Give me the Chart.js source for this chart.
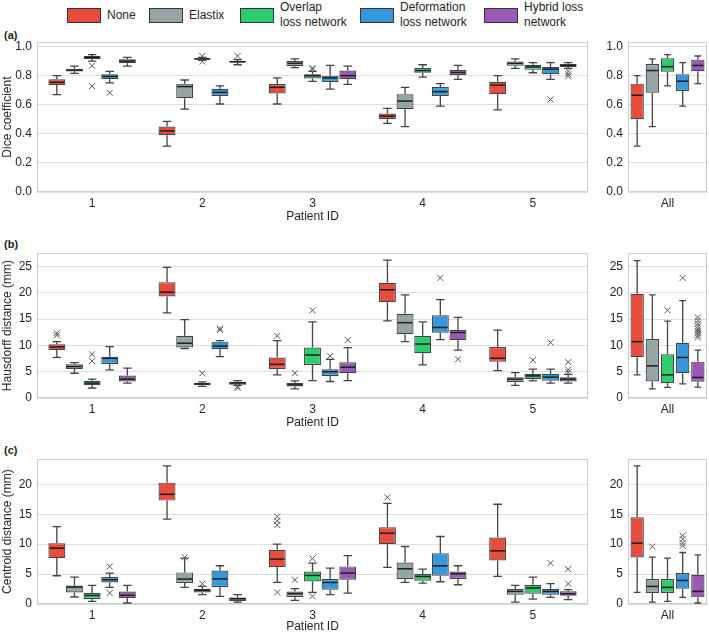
<!DOCTYPE html>
<html>
<head>
<meta charset="utf-8">
<script src="https://cdn.jsdelivr.net/npm/chart.js@4.4.1/dist/chart.umd.min.js"></script>
<style>
  body { margin: 0; background: #fff; font-family: "Liberation Sans", Arial, sans-serif; }
  #fig { position: relative; width: 709px; height: 634px; overflow: hidden; background: #fff; }
  #fig canvas { position: absolute; }
  .panel { position: absolute; left: 4px; font-size: 11px; font-weight: bold; color: #222; }
  .key { position: absolute; width: 34px; height: 15px; border: 1px solid #333; box-sizing: border-box; }
  .key-label { position: absolute; font-size: 12px; line-height: 15px; color: #262626; white-space: nowrap; }
</style>
</head>
<body>
<div id="fig">
  <div id="legend"></div>
  <div class="panel" style="top:29px">(a)</div>
  <div class="panel" style="top:238px">(b)</div>
  <div class="panel" style="top:444px">(c)</div>
  <canvas id="dice-main" width="595" height="194" style="left:0;top:30px"></canvas>
  <canvas id="dice-all" width="114" height="194" style="left:595px;top:30px"></canvas>
  <canvas id="haus-main" width="595" height="189" style="left:0;top:241px"></canvas>
  <canvas id="haus-all" width="114" height="189" style="left:595px;top:241px"></canvas>
  <canvas id="cent-main" width="595" height="187" style="left:0;top:447px"></canvas>
  <canvas id="cent-all" width="114" height="187" style="left:595px;top:447px"></canvas>
</div>
<script>
// each box: [min, q1, median, q3, max]
const methods = ['None', 'Elastix', 'Overlap loss network', 'Deformation loss network', 'Hybrid loss network'];
const legendText = [['None'], ['Elastix'], ['Overlap', 'loss network'], ['Deformation', 'loss network'], ['Hybrid loss', 'network']];
const patients = ['1', '2', '3', '4', '5'];
const allLabel = ['All'];

const diceTicks = [0, 0.2, 0.4, 0.6, 0.8, 1.0];
const hausTicks = [0, 5, 10, 15, 20, 25];
const centTicks = [0, 5, 10, 15, 20];

const diceBoxes = [
    [[0.67, 0.735, 0.755, 0.775, 0.80], [0.315, 0.39, 0.42, 0.45, 0.485], [0.605, 0.678, 0.72, 0.742, 0.785], [0.472, 0.50, 0.522, 0.54, 0.575], [0.565, 0.673, 0.735, 0.758, 0.80]],
    [[0.815, 0.828, 0.838, 0.848, 0.865], [0.57, 0.645, 0.725, 0.745, 0.77], [0.855, 0.865, 0.885, 0.90, 0.915], [0.45, 0.57, 0.625, 0.672, 0.72], [0.85, 0.868, 0.885, 0.898, 0.915]],
    [[0.90, 0.915, 0.925, 0.935, 0.945], [0.905, 0.91, 0.915, 0.92, 0.925], [0.76, 0.78, 0.80, 0.81, 0.83], [0.79, 0.82, 0.835, 0.852, 0.875], [0.82, 0.84, 0.86, 0.875, 0.89]],
    [[0.75, 0.775, 0.795, 0.81, 0.83], [0.605, 0.66, 0.685, 0.71, 0.73], [0.707, 0.757, 0.785, 0.80, 0.87], [0.59, 0.66, 0.69, 0.722, 0.745], [0.775, 0.81, 0.845, 0.86, 0.89]],
    [[0.865, 0.885, 0.90, 0.912, 0.925], [0.875, 0.89, 0.895, 0.90, 0.91], [0.74, 0.775, 0.80, 0.835, 0.865], [0.775, 0.805, 0.822, 0.838, 0.87], [0.85, 0.86, 0.87, 0.88, 0.89]]
];
const diceOut = [
    [[], [], [], [], []],
    [[], [], [], [], []],
    [[0.868, 0.728], [0.935, 0.897], [0.852, 0.845], [], []],
    [[0.682], [], [], [], [0.636]],
    [[], [0.935], [], [], [0.83, 0.81, 0.795]]
];
const diceAll = [[0.315, 0.50, 0.665, 0.745, 0.80], [0.45, 0.682, 0.835, 0.88, 0.915], [0.73, 0.826, 0.862, 0.92, 0.945], [0.59, 0.695, 0.762, 0.81, 0.89], [0.745, 0.83, 0.87, 0.91, 0.935]];
const diceAllOut = [[], [], [], [], []];

const hausBoxes = [
    [[7.7, 9.1, 9.7, 10.2, 10.7], [16.15, 19.3, 20.1, 22.0, 24.8], [4.4, 5.5, 6.4, 7.7, 10.9], [14.65, 18.2, 20.55, 21.9, 26.2], [5.2, 6.9, 7.55, 9.7, 12.9]],
    [[4.7, 5.5, 5.97, 6.4, 6.7], [9.4, 9.6, 10.4, 11.8, 14.9], [1.75, 2.2, 2.5, 2.83, 3.25], [10.7, 12.1, 14.3, 16.0, 19.6], [2.38, 3.0, 3.58, 3.96, 4.83]],
    [[1.9, 2.45, 2.83, 3.26, 3.6], [2.2, 2.4, 2.65, 2.9, 3.05], [3.3, 6.28, 8.17, 9.6, 14.45], [6.3, 8.5, 10.25, 11.8, 14.45], [3.26, 3.58, 4.2, 4.58, 5.47]],
    [[5.34, 6.47, 7.55, 7.85, 9.74], [7.85, 9.25, 9.87, 10.7, 10.9], [3.13, 4.2, 5.0, 5.47, 7.35], [11.1, 12.4, 13.4, 15.7, 18.7], [2.83, 3.26, 3.96, 4.58, 5.5]],
    [[2.83, 3.14, 3.58, 4.27, 5.66], [2.4, 2.5, 2.85, 3.08, 3.3], [3.3, 4.7, 5.85, 6.8, 9.55], [9.1, 11.0, 12.45, 12.9, 15.3], [2.83, 3.13, 3.58, 3.96, 4.5]]
];
const hausOut = [
    [[12.3, 11.9], [], [11.8], [], []],
    [[], [], [4.7], [], []],
    [[8.3, 7.0], [4.7], [16.65], [], [7.2]],
    [[], [13.2, 12.9], [8.0], [22.8], [10.55]],
    [[], [2.2, 1.9], [11.0], [7.35], [6.8, 5.4, 4.9]]
];
const hausAll = [[4.4, 7.74, 10.7, 19.8, 26.1], [1.75, 3.13, 6.1, 11.2, 19.6], [2.0, 2.83, 4.4, 8.3, 14.6], [2.7, 4.7, 7.7, 10.5, 18.5], [2.06, 3.1, 3.9, 6.9, 9.1]];
const hausAllOut = [[], [], [16.65], [22.8], [15.3, 14.7, 14.1, 13.6, 13.1, 12.7, 12.3, 11.9, 11.5]];

const centBoxes = [
    [[4.72, 7.67, 9.33, 10.17, 12.94], [14.2, 17.28, 18.33, 20.28, 23.1], [3.6, 6.17, 7.5, 9.06, 10.0], [6.11, 10.0, 11.83, 12.83, 16.83], [4.61, 7.28, 8.89, 11.11, 16.67]],
    [[1.17, 1.94, 2.83, 3.1, 4.5], [2.78, 3.5, 4.17, 5.28, 7.67], [0.61, 1.17, 1.72, 2.1, 2.56], [3.61, 4.17, 5.89, 6.94, 9.61], [0.33, 1.56, 2.11, 2.5, 3.11]],
    [[0.44, 0.83, 1.44, 1.83, 3.1], [1.56, 1.94, 2.28, 2.56, 2.94], [1.94, 3.78, 4.78, 5.44, 6.83], [3.5, 3.89, 4.61, 5.0, 5.83], [0.83, 1.72, 2.67, 3.22, 4.5]],
    [[2.78, 3.6, 4.06, 4.5, 5.17], [1.28, 2.83, 4.2, 5.6, 6.39], [1.56, 2.39, 3.6, 4.17, 6.0], [3.72, 4.72, 6.39, 8.5, 11.28], [1.11, 1.56, 2.11, 2.5, 3.39]],
    [[0.17, 1.0, 1.44, 2.1, 3.1], [0.33, 0.5, 0.89, 1.1, 1.56], [1.83, 4.06, 5.17, 6.28, 8.1], [3.22, 4.17, 5.06, 5.44, 6.39], [0.72, 1.39, 1.72, 2.11, 2.39]]
];
const centOut = [
    [[], [], [14.6, 13.9, 13.2, 1.94], [17.83], []],
    [[], [7.8], [4.06], [], []],
    [[], [3.39], [7.6, 1.3], [], []],
    [[6.28, 1.83], [], [], [], [6.83]],
    [[], [], [], [], [5.83, 3.39]]
];
const centAll = [[1.94, 7.78, 10.17, 14.5, 23.1], [0.33, 1.83, 2.94, 4.17, 7.83], [0.44, 1.83, 2.78, 4.17, 7.67], [1.11, 2.56, 3.94, 5.17, 8.61], [0.17, 1.11, 2.11, 4.89, 8.22]];
const centAllOut = [[], [9.6], [], [11.44, 10.83, 10.17, 9.72], []];

const colors = ['#e74c3c', '#95a5a6', '#2ecc71', '#3498db', '#9b59b6'];
const lineColor = '#444444';

Chart.defaults.font.family = '"Liberation Sans", Arial, sans-serif';
Chart.defaults.font.size = 12;
Chart.defaults.color = '#262626';

// legend (html, two-line labels)
const legendX = [67, 149, 240, 360, 484];
const legend = document.getElementById('legend');
methods.forEach((m, i) => {
    const key = document.createElement('div');
    key.className = 'key';
    key.style.left = legendX[i] + 'px';
    key.style.top = '8px';
    key.style.background = colors[i];
    legend.appendChild(key);
    const lab = document.createElement('div');
    lab.className = 'key-label';
    lab.style.left = (legendX[i] + 40) + 'px';
    lab.style.top = (legendText[i].length === 1 ? 8 : 0) + 'px';
    lab.innerHTML = legendText[i].join('<br>');
    legend.appendChild(lab);
});

const boxPlugin = {
    id: 'boxWhisker',
    beforeDatasetsDraw(chart) {
        const {ctx, chartArea: a} = chart;
        ctx.save();
        ctx.strokeStyle = '#cccccc';
        ctx.lineWidth = 1;
        ctx.strokeRect(Math.round(a.left) + 0.5, Math.round(a.top) + 0.5, Math.round(a.right - a.left) - 1, Math.round(a.bottom - a.top) - 1);
        // whiskers and caps
        const y = chart.scales.y;
        ctx.strokeStyle = lineColor;
        ctx.lineWidth = 1.3;
        chart.data.datasets.forEach((ds, di) => {
            chart.getDatasetMeta(di).data.forEach((bar, i) => {
                const s = ds.stats[i];
                const {x, width} = bar.getProps(['x', 'width'], true);
                const cap = width / 4;
                ctx.beginPath();
                ctx.moveTo(x, y.getPixelForValue(s[1]));
                ctx.lineTo(x, y.getPixelForValue(s[0]));
                ctx.moveTo(x, y.getPixelForValue(s[3]));
                ctx.lineTo(x, y.getPixelForValue(s[4]));
                ctx.moveTo(x - cap, y.getPixelForValue(s[0]));
                ctx.lineTo(x + cap, y.getPixelForValue(s[0]));
                ctx.moveTo(x - cap, y.getPixelForValue(s[4]));
                ctx.lineTo(x + cap, y.getPixelForValue(s[4]));
                ctx.stroke();
            });
        });
        ctx.restore();
    },
    afterDatasetsDraw(chart) {
        const {ctx} = chart;
        const y = chart.scales.y;
        ctx.save();
        chart.data.datasets.forEach((ds, di) => {
            chart.getDatasetMeta(di).data.forEach((bar, i) => {
                const s = ds.stats[i];
                const {x, width} = bar.getProps(['x', 'width'], true);
                const my = y.getPixelForValue(s[2]);
                ctx.strokeStyle = '#1e1e1e';
                ctx.lineWidth = 1.5;
                ctx.beginPath();
                ctx.moveTo(x - width / 2 + 1, my);
                ctx.lineTo(x + width / 2 - 1, my);
                ctx.stroke();
                ctx.strokeStyle = '#555555';
                ctx.lineWidth = 1;
                (ds.outliers[i] || []).forEach(v => {
                    const oy = y.getPixelForValue(v);
                    ctx.beginPath();
                    ctx.moveTo(x - 3, oy - 3);
                    ctx.lineTo(x + 3, oy + 3);
                    ctx.moveTo(x + 3, oy - 3);
                    ctx.lineTo(x - 3, oy + 3);
                    ctx.stroke();
                });
            });
        });
        ctx.restore();
    }
};

const makeChart = (id, labels, boxes, outliers, cfg) => {
    const datasets = methods.map((name, m) => ({
        label: name,
        data: boxes[m].map(b => [b[1], b[3]]),
        stats: boxes[m],
        outliers: outliers[m],
        backgroundColor: colors[m],
        borderColor: lineColor,
        borderWidth: 1.2,
        borderSkipped: false,
        categoryPercentage: cfg.catPct,
        barPercentage: cfg.barPct
    }));
    return new Chart(document.getElementById(id), {
        type: 'bar',
        data: {labels: labels, datasets: datasets},
        plugins: [boxPlugin],
        options: {
            responsive: false,
            animation: false,
            devicePixelRatio: 1,
            layout: {padding: {top: 12, right: cfg.right, left: 0, bottom: 0}},
            plugins: {legend: {display: false}, tooltip: {enabled: false}},
            scales: {
                x: {
                    grid: {display: false, drawTicks: false},
                    border: {display: false},
                    ticks: {padding: 4, color: '#262626'},
                    title: {display: !!cfg.xTitle, text: cfg.xTitle || '', padding: 0, color: '#262626'},
                    afterFit: s => { s.height = cfg.xh; }
                },
                y: {
                    min: 0,
                    max: cfg.max,
                    grid: {color: '#dddddd', lineWidth: 1, drawTicks: false},
                    border: {display: false},
                    afterBuildTicks: s => { s.ticks = cfg.ticks.map(v => ({value: v})); },
                    ticks: {padding: 5, color: '#262626', callback: cfg.fmt},
                    title: {display: !!cfg.yTitle, text: cfg.yTitle || '', padding: {top: 0, bottom: 0}, color: '#262626'},
                    afterFit: s => { s.width = cfg.yw; }
                }
            }
        }
    });
};

const main = {catPct: 0.8, barPct: 0.96, right: 7, yw: 37};
const side = {catPct: 0.96, barPct: 0.88, right: 2, yw: 33};
const diceFmt = v => v.toFixed(1);
const intFmt = v => String(v);

makeChart('dice-main', patients, diceBoxes, diceOut, {...main, xh: 32, max: 1.03, ticks: diceTicks, fmt: diceFmt, xTitle: 'Patient ID', yTitle: 'Dice coefficient'});
makeChart('dice-all', allLabel, diceAll.map(b => [b]), diceAllOut.map(o => [o]), {...side, xh: 32, max: 1.03, ticks: diceTicks, fmt: diceFmt});
makeChart('haus-main', patients, hausBoxes, hausOut, {...main, xh: 32, max: 27.5, ticks: hausTicks, fmt: intFmt, xTitle: 'Patient ID', yTitle: 'Hausdorff distance (mm)'});
makeChart('haus-all', allLabel, hausAll.map(b => [b]), hausAllOut.map(o => [o]), {...side, xh: 32, max: 27.5, ticks: hausTicks, fmt: intFmt});
makeChart('cent-main', patients, centBoxes, centOut, {...main, xh: 30, max: 24.2, ticks: centTicks, fmt: intFmt, xTitle: 'Patient ID', yTitle: 'Centroid distance (mm)'});
makeChart('cent-all', allLabel, centAll.map(b => [b]), centAllOut.map(o => [o]), {...side, xh: 30, max: 24.2, ticks: centTicks, fmt: intFmt});
</script>
</body>
</html>
